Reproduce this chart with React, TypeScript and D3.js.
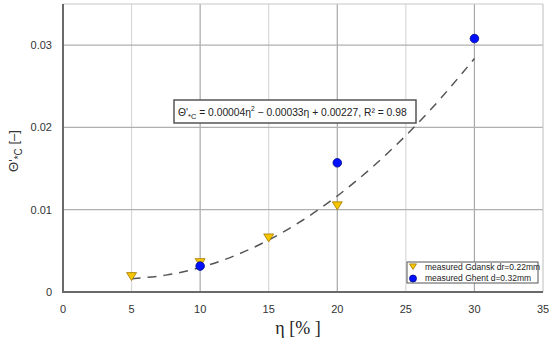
import React from 'react';
import * as d3 from 'd3';

// Data
const gdanskEta = [5, 10, 15, 20];
const gdanskTheta = [0.0019, 0.0036, 0.0066, 0.0105];
const ghentEta = [10, 20, 30];
const ghentTheta = [0.00315, 0.0157, 0.0308];
// Trend line points (quadratic fit as drawn)
const fitEta = [5, 7.5, 10, 12.5, 15, 17.5, 20, 22.5, 25, 27.5, 30];
const fitTheta = [0.00162, 0.00205, 0.00297, 0.0044, 0.00632, 0.00875, 0.01167, 0.0151, 0.01902, 0.02345, 0.02837];
const xTicks = [0, 5, 10, 15, 20, 25, 30, 35];
const yTicks = [0, 0.01, 0.02, 0.03];
const legendLabels = ['measured Gdansk dr=0.22mm', 'measured Ghent d=0.32mm'];

const W = 550;
const H = 339;
const m = { left: 63, right: 7, top: 4, bottom: 47 };

const App = () => {
  const x = d3.scaleLinear().domain([0, 35]).range([m.left, W - m.right]);
  const y = d3.scaleLinear().domain([0, 0.035]).range([H - m.bottom, m.top]);

  const line = d3
    .line<number>()
    .x((d, i) => x(fitEta[i]))
    .y((d) => y(d))
    .curve(d3.curveNatural);

  const tri = (cx: number, cy: number, s = 5) =>
    `M${cx - s},${cy - s * 0.75}L${cx + s},${cy - s * 0.75}L${cx},${cy + s * 0.85}Z`;

  const font = '"Liberation Sans", Arial, sans-serif';

  return (
    <svg
      width={W}
      height={H}
      style={{ position: 'absolute', left: 0, top: 0, background: '#fff', fontFamily: font }}
    >
      {/* grid */}
      {xTicks.slice(1, -1).map((t) => (
        <line
          key={'gx' + t}
          x1={x(t)}
          x2={x(t)}
          y1={y(0)}
          y2={y(0.035)}
          stroke={t % 10 === 0 ? '#a8a8a8' : '#d8d8d8'}
          strokeWidth={1.2}
        />
      ))}
      {yTicks.slice(1).map((t) => (
        <line
          key={'gy' + t}
          x1={x(0)}
          x2={x(35)}
          y1={y(t)}
          y2={y(t)}
          stroke="#b0b0b0"
          strokeWidth={1.2}
        />
      ))}
      {/* frame */}
      <line x1={x(0)} x2={x(35)} y1={y(0.035)} y2={y(0.035)} stroke="#c8c8c8" strokeWidth={1.2} />
      <line x1={x(35)} x2={x(35)} y1={y(0.035)} y2={y(0)} stroke="#c8c8c8" strokeWidth={1.2} />
      <line x1={x(0)} x2={x(0)} y1={y(0.035)} y2={y(0) + 1} stroke="#6a6a6a" strokeWidth={2} />
      <line x1={x(0) - 1} x2={x(35)} y1={y(0)} y2={y(0)} stroke="#6a6a6a" strokeWidth={2} />

      {/* tick labels */}
      {xTicks.map((t) => (
        <text key={'tx' + t} x={x(t)} y={313} textAnchor="middle" fontSize={11} fill="#333">
          {t}
        </text>
      ))}
      {yTicks.map((t) => (
        <text key={'ty' + t} x={52} y={y(t) + 4} textAnchor="end" fontSize={11} fill="#333">
          {t === 0 ? '0' : t.toFixed(2)}
        </text>
      ))}

      {/* axis titles */}
      <text
        x={298}
        y={334}
        textAnchor="middle"
        fill="#222"
        style={{ fontFamily: '"Liberation Serif", "DejaVu Serif", serif', fontSize: 18 }}
      >
        η [% ]
      </text>
      <text transform="translate(18,151) rotate(-90)" textAnchor="middle" fontSize={13} fill="#333">
        Θ'<tspan dy={4} fontSize={10}>*C</tspan>
        <tspan dy={-4}> [–]</tspan>
      </text>

      {/* fit line */}
      <path d={line(fitTheta) || ''} fill="none" stroke="#555" strokeWidth={1.5} strokeDasharray="9,7" />

      {/* markers */}
      {gdanskEta.map((e, i) => (
        <path key={'g' + i} d={tri(x(e), y(gdanskTheta[i]))} fill="#f7c600" stroke="#a07800" strokeWidth={0.8} />
      ))}
      {ghentEta.map((e, i) => (
        <circle key={'c' + i} cx={x(e)} cy={y(ghentTheta[i])} r={4.3} fill="#0010ff" stroke="#000a80" strokeWidth={0.8} />
      ))}

      {/* equation box */}
      <rect x={174} y={100} width={242} height={23} fill="#fff" stroke="#555" strokeWidth={1.5} />
      <text x={178} y={116} fontSize={10.3} fill="#222">
        Θ'<tspan dy={3} fontSize={7.5}>*C</tspan>
        <tspan dy={-3}> = 0.00004η</tspan>
        <tspan dy={-5} fontSize={6.5}>2</tspan>
        <tspan dy={5}> − 0.00033η + 0.00227, R² = 0.98</tspan>
      </text>

      {/* legend */}
      <rect x={407} y={262} width={131} height={21} fill="#fff" stroke="#555" strokeWidth={1} />
      <path d={tri(413, 266.5, 3.5)} fill="#f7c600" stroke="#a07800" strokeWidth={0.8} />
      <circle cx={413} cy={278.5} r={3.5} fill="#0010ff" stroke="#000a80" strokeWidth={0.8} />
      {legendLabels.map((l, i) => (
        <text key={l} x={425} y={269.5 + i * 11.5} fontSize={8.5} fill="#222">
          {l}
        </text>
      ))}
    </svg>
  );
};

export default App;
